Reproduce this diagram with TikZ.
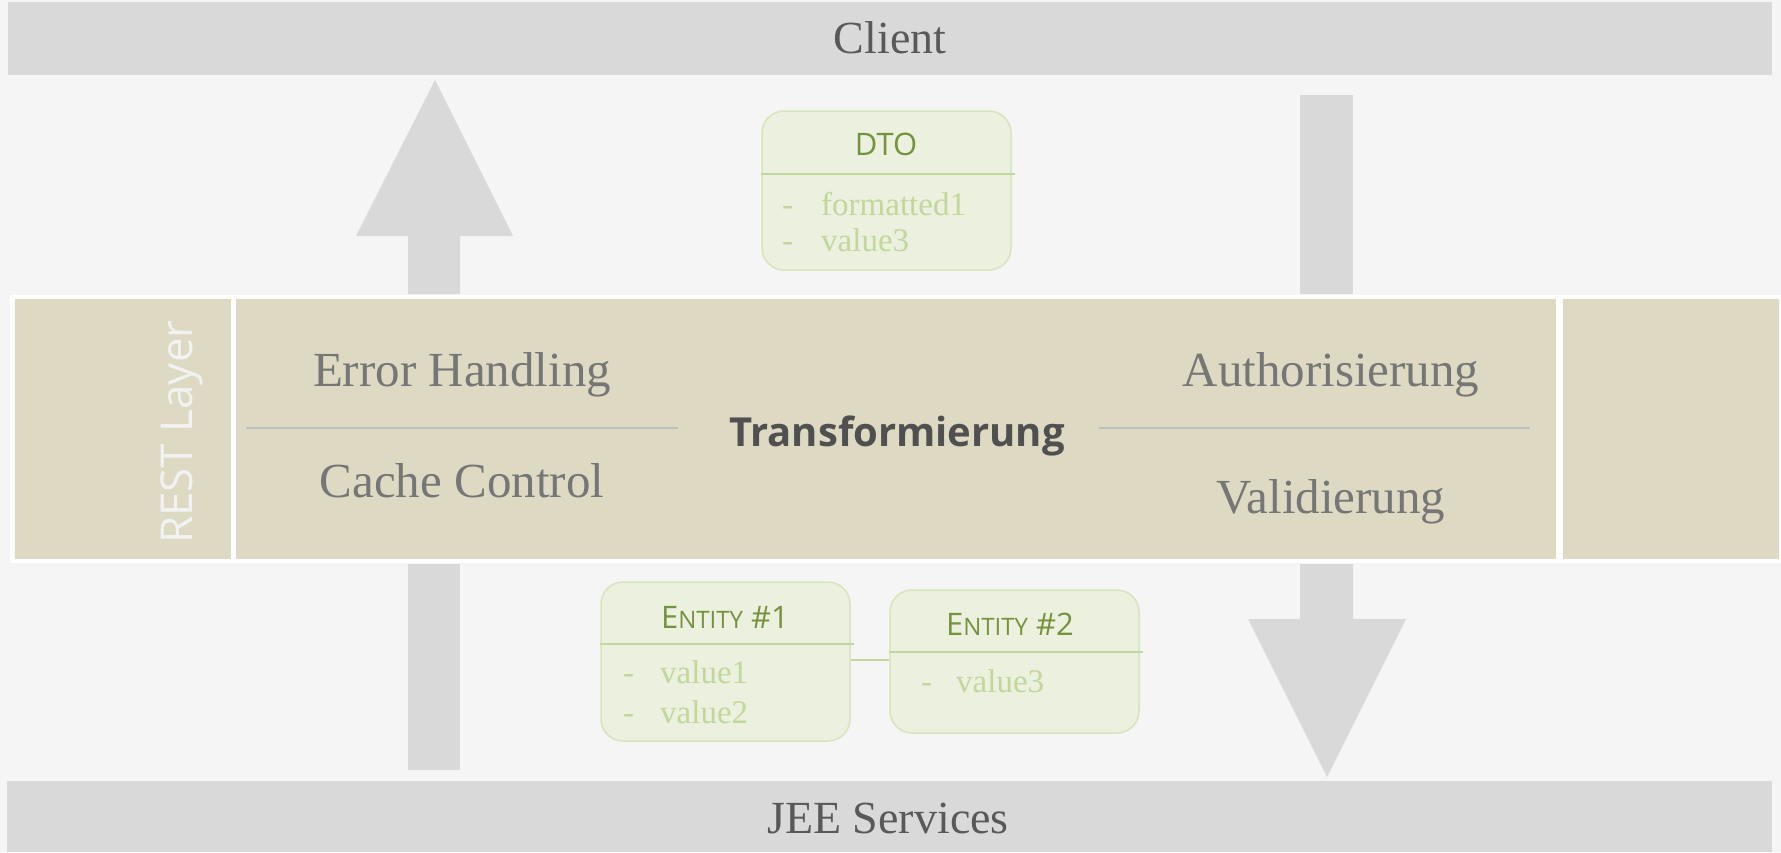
\documentclass[tikz,border=0pt]{standalone}
\usepackage{fontspec}
\setmainfont{Liberation Serif}
\newfontfamily\osans{Open Sans}
\definecolor{bg}{HTML}{F5F5F5}
\definecolor{bar}{HTML}{D9D9D9}
\definecolor{bartext}{HTML}{595959}
\definecolor{band}{HTML}{DDD9C3}
\definecolor{bandtext}{HTML}{767676}
\definecolor{bandline}{HTML}{BFC0C2}
\definecolor{transtext}{HTML}{505050}
\definecolor{boxfill}{HTML}{EBF1DE}
\definecolor{boxline}{HTML}{D7E4BD}
\definecolor{boxtitle}{HTML}{76923C}
\definecolor{boxitem}{HTML}{C3D69B}
\definecolor{arrowc}{HTML}{D9D9D9}
\tikzset{
  barbox/.style={fill=bar, draw=none, inner sep=0pt, minimum height=#1},
  panel/.style={fill=band, draw=none, inner sep=0pt, minimum height=260, minimum width=#1},
  bandlabel/.style={text=bandtext, inner sep=0pt, font=\fontsize{49}{55}\selectfont},
  bartitle/.style={text=bartext, inner sep=0pt, font=\fontsize{46}{52}\selectfont},
  umlbox/.style={fill=boxfill, draw=boxline, line width=1.5pt, rounded corners=22, inner sep=0pt, minimum width=249, minimum height=#1},
  umltitle/.style={text=boxtitle, inner sep=0pt},
  umlitem/.style={text=boxitem, inner sep=0pt, anchor=west, text height=23, text depth=7, font=\fontsize{33}{38}\selectfont},
  umlrule/.style={draw=boxitem, line width=1.5pt},
  bandrule/.style={draw=bandline, line width=1.5pt},
  bigarrow/.style={fill=arrowc, draw=none},
}
\begin{document}
\begin{tikzpicture}[x=1pt,y=-1pt]
\useasboundingbox (0,0) rectangle (1781,852);
\fill[bg] (0,0) rectangle (1781,852);

% bars
\node[barbox=73, minimum width=1764] (client) at (890,38.5) {};
\node[bartitle] (clienttext) at (890,38) {Client};
\node[barbox=71, minimum width=1765] (jee) at (889.5,816.5) {};
\node[bartitle] (jeetext) at (888,818) {JEE Services};

% band
\fill[white] (10,295) rectangle (1781,563);
\node[panel=216] (left) at (123,429) {};
\node[panel=1320] (mid) at (896,429) {};
\node[panel=216] (right) at (1671,429) {};
\node[rotate=90, text=white!95!black, inner sep=0pt, font=\osans\fontsize{44}{48}\selectfont] (rest) at (182,432) {REST Layer};

\draw[bandrule] (246,428) -- (678,428);
\draw[bandrule] (1099,428) -- (1530,428);
\node[bandlabel] (err) at (462,375) {Error Handling};
\node[bandlabel] (cache) at (462,481) {Cache Control};
\node[bandlabel] (auth) at (1331,375) {Authorisierung};
\node[bandlabel] (valid) at (1331,502) {Validierung};
\node[text=transtext, inner sep=0pt, font=\osans\bfseries\fontsize{40}{46}\selectfont] (trans) at (897,436) {Transformierung};

% arrows
\fill[bigarrow] (408,294) -- (408,236) -- (356,236) -- (435,80) -- (513,236) -- (460,236) -- (460,294) -- cycle;
\fill[bigarrow] (408,564) rectangle (460,770);
\fill[bigarrow] (1300,95) rectangle (1353,294);
\fill[bigarrow] (1300,564) -- (1300,619) -- (1248,619) -- (1327,777) -- (1406,619) -- (1353,619) -- (1353,564) -- cycle;

% DTO
\node[umlbox=159] (dto) at (886.5,190.5) {};
\node[umltitle, font=\osans\fontsize{31}{36}\selectfont] (dtotitle) at (886,144) {DTO};
\draw[umlrule] (dto.west |- 0,174) -- (1015,174);
\node[umlitem] (dtod1) at (782,207) {-};
\node[umlitem] (dtoi1) at (821,207) {formatted1};
\node[umlitem] (dtod2) at (782,243) {-};
\node[umlitem] (dtoi2) at (821,243) {value3};

% Entity 1
\node[umlbox=159] (e1) at (725.5,661.5) {};
\node[umltitle, font=\osans\fontsize{31}{36}\selectfont] (e1title) at (725,617) {E{\fontsize{24}{36}\selectfont NTITY} \#1};
\draw[umlrule] (e1.west |- 0,644) -- (854,644);
\node[umlitem] (e1d1) at (623,675) {-};
\node[umlitem] (e1i1) at (660,675) {value1};
\node[umlitem] (e1d2) at (623,715) {-};
\node[umlitem] (e1i2) at (660,715) {value2};

% Entity 2
\node[umlbox=143] (e2) at (1014.5,661.5) {};
\node[umltitle, font=\osans\fontsize{31}{36}\selectfont] (e2title) at (1010,624) {E{\fontsize{24}{36}\selectfont NTITY} \#2};
\draw[umlrule] (e2.west |- 0,652) -- (1143,652);
\node[umlitem] (e2d1) at (921,684) {-};
\node[umlitem] (e2i1) at (956,684) {value3};

\draw[umlrule] (e1.east |- 0,660) -- (e2.west |- 0,660);
\end{tikzpicture}
\end{document}
